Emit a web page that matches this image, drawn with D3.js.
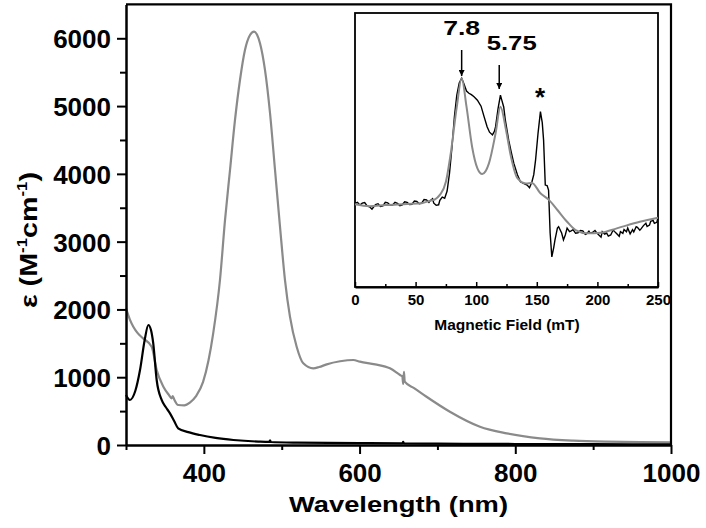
<!DOCTYPE html>
<html lang="en">
<head>
<meta charset="utf-8">
<title>UV-vis and EPR</title>
<script src="https://cdn.jsdelivr.net/npm/d3@7/dist/d3.min.js"></script>
<style>
  body { margin: 0; background: #fff; }
  text { font-family: "Liberation Sans", Arial, sans-serif; font-weight: bold; }
</style>
</head>
<body>
<script>
// main panel: extinction coefficient vs wavelength
var blackNm  = [300, 305, 312, 318, 324, 328.7, 332, 335, 339.4, 345.8, 351, 356.5, 362, 367, 380, 395, 415, 438, 470, 484, 485, 486, 520, 600, 655, 656, 657, 700, 800, 900, 1000];
var blackEps = [737, 664, 800, 1106, 1550, 1770, 1700, 1500, 959, 664, 560, 467, 350, 246, 190, 147, 105, 74, 50, 45, 70, 44, 35, 28, 25, 45, 24, 20, 15, 12, 10];

var grayNm  = [300, 305, 309.4, 315, 322, 333, 339.4, 348, 355, 358.7, 360, 362, 367, 375, 382, 390, 399, 406, 412, 420.7, 427.2, 433.6, 440, 446.4, 452.8, 459.3, 464.4, 472.1, 478.5, 485, 491.4, 497.8, 504.2, 510.6, 519.2, 527.7, 540.6, 548, 557.8, 575, 592, 600.5, 620, 639, 652, 655, 656, 657, 658, 670, 686, 716, 754.6, 789, 831.7, 874.5, 917, 960, 1000];
var grayEps = [2016, 1850, 1745, 1650, 1573, 1450, 1106, 860, 740, 689, 720, 670, 590, 585, 625, 720, 930, 1250, 1648, 2434, 3320, 4057, 4795, 5385, 5828, 6049, 6098, 5926, 5533, 4894, 4057, 3221, 2434, 1893, 1450, 1205, 1131, 1150, 1190, 1235, 1254, 1229, 1190, 1131, 1032, 1010, 900, 1080, 934, 840, 712, 491, 270, 172, 98, 64, 49, 43, 40];

var xTicks = [400, 600, 800, 1000];
var xMinor = [300, 500, 700, 900];
var yTicks = [0, 1000, 2000, 3000, 4000, 5000, 6000];
var yMinor = [500, 1500, 2500, 3500, 4500, 5500];

// inset: EPR, arbitrary intensity
var eprField = [0, 2, 4, 6, 8, 10, 12, 14, 15, 17, 19, 21, 23, 25, 27, 29, 31, 33, 35, 37, 39, 41, 43, 45, 47, 49, 51, 53, 55, 57, 59, 61, 62, 64, 65, 67, 69, 70, 72, 74, 76, 78, 80, 82, 84, 86, 88, 90, 92, 94, 96, 98, 101, 104, 106.5, 109, 111, 113.4, 115, 116, 118, 120, 121, 122.7, 124, 126.8, 129, 131, 134, 136.5, 139, 142, 144, 146, 147.5, 149, 151, 153, 154.5, 155.6, 157, 158.5, 159.7, 161, 162.4, 164, 165, 167, 168, 170.5, 172, 173.5, 175, 177, 178, 180, 182, 184, 186, 188, 190, 191, 193, 194, 196, 198, 200, 201, 203, 204, 206, 207.6, 209, 211, 213, 214, 216, 218, 219, 221, 222, 224, 225, 227, 229, 230, 232, 233, 235, 236, 238, 240, 241, 243, 244, 246, 247, 249, 250];
var eprExp   = [30.5, 30.9, 29.9, 30.6, 30.8, 29.6, 29.3, 28.4, 29.0, 30.1, 30.4, 29.4, 29.6, 30.9, 30.7, 29.8, 29.9, 30.9, 30.5, 29.7, 30.0, 31.1, 30.9, 30.1, 30.2, 31.4, 31.2, 30.4, 30.6, 31.9, 31.8, 30.9, 31.5, 32.2, 30.6, 29.8, 30.0, 31.6, 32.8, 32.4, 35.0, 41.6, 51.0, 62.0, 70.0, 74.5, 76.2, 74.0, 71.5, 70.7, 70.2, 69.5, 68.2, 66.0, 62.2, 58.5, 56.5, 55.5, 56.8, 58.5, 65.0, 70.0, 68.4, 65.7, 61.0, 53.6, 49.0, 45.2, 41.0, 38.4, 37.8, 37.2, 36.2, 38.4, 41.0, 46.4, 56.0, 64.0, 60.0, 53.6, 37.2, 37.0, 35.4, 19.7, 11.0, 14.5, 17.2, 21.5, 22.0, 19.7, 17.2, 19.0, 21.5, 20.2, 20.4, 20.9, 19.6, 19.8, 20.6, 20.5, 19.2, 19.4, 20.4, 19.7, 19.9, 20.6, 19.5, 19.1, 18.2, 20.2, 19.3, 19.7, 18.6, 19.0, 20.8, 20.3, 19.4, 18.5, 20.2, 19.6, 21.0, 20.2, 21.5, 19.4, 20.9, 20.1, 22.0, 21.8, 20.7, 21.2, 22.4, 23.3, 22.1, 22.6, 24.0, 24.3, 23.2, 23.6, 25.3, 25.1, 25.4];

var simField = [0, 12, 25, 43, 55, 62, 66, 70, 75, 79, 84, 88, 92, 96.6, 101, 105, 110.5, 116, 120, 124.6, 128.7, 134, 141, 146, 153, 160, 167, 175, 182, 191.7, 202.6, 216, 235, 250];
var simInt   = [30.2, 29.5, 29.9, 30.3, 30.6, 31.5, 32.0, 33.6, 38.4, 48.8, 65.8, 76.2, 65.8, 51.2, 43.3, 41.2, 45.1, 56.1, 65.8, 57.3, 47.5, 39.7, 37.8, 38.0, 34.2, 31.8, 28.1, 23.8, 20.8, 19.6, 19.8, 21.4, 23.8, 25.3];

var eprTicks = [0, 50, 100, 150, 200, 250];
var eprMinor = [25, 75, 125, 175, 225];

var gray = "#8a8a8a";
var W = 706, H = 528;

var svg = d3.select("body").append("svg").attr("width", W).attr("height", H);

var x = d3.scaleLinear().domain([300, 1000]).range([126, 671]);
var y = d3.scaleLinear().domain([0, 6500]).range([445, 4.4]);

var line = d3.line().curve(d3.curveMonotoneX)
  .x(function(d) { return x(d[0]) }).y(function(d) { return y(d[1]) });

svg.append("path")
  .datum(d3.zip(grayNm, grayEps))
  .attr("d", line).attr("fill", "none").attr("stroke", gray).attr("stroke-width", 2.2);
svg.append("path")
  .datum(d3.zip(blackNm, blackEps))
  .attr("d", line).attr("fill", "none").attr("stroke", "black").attr("stroke-width", 2.2);

// frame top/right
svg.append("path")
  .attr("d", "M" + x(300) + "," + y(6500) + "H" + x(1000) + "V" + y(0))
  .attr("fill", "none").attr("stroke", "black").attr("stroke-width", 2.2);

var gx = svg.append("g").attr("transform", "translate(0," + y(0) + ")")
  .call(d3.axisBottom(x).tickValues(xTicks).tickSizeInner(9).tickSizeOuter(0).tickPadding(10).tickFormat(d3.format("d")));
svg.append("g").attr("transform", "translate(0," + y(0) + ")")
  .call(d3.axisBottom(x).tickValues(xMinor).tickSize(5).tickFormat(""))
  .select(".domain").remove();
var gy = svg.append("g").attr("transform", "translate(" + x(300) + ",0)")
  .call(d3.axisLeft(y).tickValues(yTicks).tickSizeInner(9).tickSizeOuter(0).tickPadding(6).tickFormat(d3.format("d")));
svg.append("g").attr("transform", "translate(" + x(300) + ",0)")
  .call(d3.axisLeft(y).tickValues(yMinor).tickSize(6).tickFormat(""))
  .select(".domain").remove();

svg.selectAll(".domain").attr("stroke-width", 2.5);
svg.selectAll(".tick line").attr("stroke-width", 2);
gx.selectAll(".tick text").attr("font-size", "26px").attr("fill", "black");
gy.selectAll(".tick text").attr("font-size", "26px").attr("fill", "black").attr("dy", "0.36em");

svg.append("text").attr("x", 398.5).attr("y", 512).attr("text-anchor", "middle")
  .attr("font-size", "22px").attr("textLength", 219).attr("lengthAdjust", "spacingAndGlyphs")
  .text("Wavelength (nm)");

var yt = svg.append("text").attr("transform", "translate(37,240) rotate(-90)")
  .attr("text-anchor", "middle").attr("font-size", "24px")
  .attr("textLength", 136).attr("lengthAdjust", "spacingAndGlyphs");
yt.append("tspan").text("\u03b5 (M");
yt.append("tspan").attr("font-size", "14px").attr("dy", "-10").text("-1");
yt.append("tspan").attr("dy", "10").text("cm");
yt.append("tspan").attr("font-size", "14px").attr("dy", "-10").text("-1");
yt.append("tspan").attr("dy", "10").text(")");

// inset
var ix = d3.scaleLinear().domain([0, 250]).range([355, 658]);
var iy = d3.scaleLinear().domain([0, 100]).range([287, 13]);
var iline = d3.line().x(function(d) { return ix(d[0]) }).y(function(d) { return iy(d[1]) });

svg.append("rect").attr("x", 355).attr("y", 13).attr("width", 303).attr("height", 274)
  .attr("fill", "white").attr("stroke", "black").attr("stroke-width", 1.8);

svg.append("path").datum(d3.zip(eprField, eprExp))
  .attr("d", iline).attr("fill", "none").attr("stroke", "black").attr("stroke-width", 1.4);
svg.append("path").datum(d3.zip(simField, simInt))
  .attr("d", d3.line().curve(d3.curveMonotoneX).x(function(d) { return ix(d[0]) }).y(function(d) { return iy(d[1]) }))
  .attr("fill", "none").attr("stroke", gray).attr("stroke-width", 2);

var igx = svg.append("g").attr("transform", "translate(0,287)")
  .call(d3.axisBottom(ix).tickValues(eprTicks).tickSizeInner(-5).tickSizeOuter(0).tickPadding(5).tickFormat(d3.format("d")));
var igm = svg.append("g").attr("transform", "translate(0,287)")
  .call(d3.axisBottom(ix).tickValues(eprMinor).tickSize(-3).tickFormat(""));
igm.select(".domain").remove();
igx.select(".domain").attr("stroke-width", 1.8);
igx.selectAll(".tick line").attr("stroke-width", 1.5);
igm.selectAll(".tick line").attr("stroke-width", 1.5);
igx.selectAll(".tick text").attr("font-size", "15px").attr("fill", "black").attr("y", 7).attr("dy", "0.71em");

svg.append("text").attr("x", 507).attr("y", 330).attr("text-anchor", "middle")
  .attr("font-size", "15.5px").text("Magnetic Field (mT)");

// peak labels
var marks = [{ f: 88, label: "7.8", top: 50, tip: 76, ty: 35, w: 37 },
             { f: 119, label: "5.75", top: 65, tip: 89, ty: 50, w: 50 }];
svg.append("defs").append("marker").attr("id", "ah")
  .attr("viewBox", "0 0 10 10").attr("refX", 10).attr("refY", 5)
  .attr("markerWidth", 4).attr("markerHeight", 4).attr("orient", "auto")
  .append("path").attr("d", "M0,0L10,5L0,10Z").attr("fill", "black");
marks.forEach(function(m, i) {
  svg.append("line").attr("x1", ix(m.f)).attr("x2", ix(m.f)).attr("y1", m.top).attr("y2", m.tip)
    .attr("stroke", "black").attr("stroke-width", 1.5).attr("marker-end", "url(#ah)");
  svg.append("text").attr("x", i == 0 ? ix(m.f) : 511.7).attr("y", m.ty).attr("text-anchor", "middle")
    .attr("font-size", "21px").attr("textLength", m.w).attr("lengthAdjust", "spacingAndGlyphs")
    .text(m.label);
});
svg.append("text").attr("x", ix(152.7)).attr("y", 106).attr("text-anchor", "middle")
  .attr("font-size", "26px").text("*");
</script>
</body>
</html>
